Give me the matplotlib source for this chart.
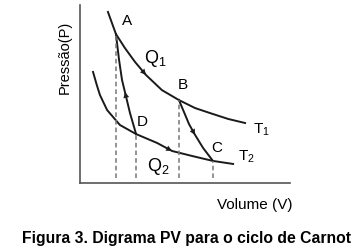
import matplotlib
matplotlib.use("Agg")
import matplotlib.pyplot as plt

plt.rcParams['font.family'] = ['Liberation Sans', 'DejaVu Sans']
plt.rcParams['mathtext.fontset'] = 'custom'
plt.rcParams['mathtext.rm'] = 'Liberation Sans'
plt.rcParams['mathtext.it'] = 'Liberation Sans'

# isotherm T1 (hot)
t1_v = [1.33, 1.71, 2.14, 2.62, 3.14, 3.90, 4.71, 5.48, 6.19, 7.05, 7.86]
t1_p = [9.61, 8.37, 7.58, 6.80, 6.07, 5.22, 4.66, 4.21, 3.93, 3.60, 3.37]

# isotherm T2 (cold)
t2_v = [0.62, 0.80, 0.95, 1.29, 1.90, 2.67, 3.67, 4.38, 5.33, 6.33, 7.29]
t2_p = [6.24, 5.50, 4.94, 4.10, 3.26, 2.75, 2.25, 1.80, 1.52, 1.24, 1.07]

# adiabats A-D and B-C
ad_v = [1.71, 1.86, 2.00, 2.14, 2.38, 2.67]
ad_p = [8.37, 6.91, 5.79, 5.11, 3.93, 2.75]
bc_v = [4.71, 4.95, 5.19, 5.48, 5.86, 6.33]
bc_p = [4.66, 3.99, 3.31, 2.70, 1.97, 1.24]

# corner points of the cycle
pt_names = ['A', 'B', 'C', 'D']
pt_v = [1.71, 4.71, 6.33, 2.67]
pt_p = [8.37, 4.66, 1.24, 2.75]

fig = plt.figure(figsize=(3.58, 2.52), dpi=100)
ax = fig.add_axes([0.2235, 0.2738, 0.5866, 0.7063])

lc = '#1a1a1a'
ax.plot(t1_v, t1_p, color=lc, lw=1.4)
ax.plot(t2_v, t2_p, color=lc, lw=1.4)
ax.plot(ad_v, ad_p, color=lc, lw=1.4)
ax.plot(bc_v, bc_p, color=lc, lw=1.4)

# dashed drop lines to the volume axis
ax.vlines(pt_v, 0.3, pt_p, colors='#777777', linestyles=(0, (3, 2)), lw=1.1)

# arrowheads showing direction around the cycle
def arrow(xs, ys, i, j):
    ax.annotate('', xy=(xs[j], ys[j]), xytext=(xs[i], ys[i]),
                arrowprops=dict(arrowstyle='-|>', color=lc, lw=0.1,
                                mutation_scale=10, shrinkA=0, shrinkB=0))

arrow(t1_v, t1_p, 3, 4)
arrow(ad_v, ad_p, 4, 3)
arrow(bc_v, bc_p, 2, 3)
arrow(t2_v, t2_p, 6, 7)

fs = 11
ax.text(2.24, 9.1, 'A', fontsize=fs, ha='center', va='center')
ax.text(4.91, 5.5, 'B', fontsize=fs, ha='center', va='center')
ax.text(6.52, 1.95, 'C', fontsize=fs, ha='center', va='center')
ax.text(2.95, 3.4, 'D', fontsize=fs, ha='center', va='center')
ax.text(3.6, 7.0, r'Q$_{\mathrm{1}}$', fontsize=13, ha='center', va='center')
ax.text(3.75, 0.9, r'Q$_{\mathrm{2}}$', fontsize=13, ha='center', va='center')
ax.text(8.65, 3.0, r'T$_{\mathrm{1}}$', fontsize=fs, ha='center', va='center')
ax.text(7.9, 1.45, r'T$_{\mathrm{2}}$', fontsize=fs, ha='center', va='center')

ax.set_xlim(0, 10)
ax.set_ylim(0, 10)
ax.spines['top'].set_visible(False)
ax.spines['right'].set_visible(False)
ax.spines['left'].set_color('#555555')
ax.spines['bottom'].set_color('#555555')
ax.spines['left'].set_linewidth(1.2)
ax.spines['bottom'].set_linewidth(1.2)
ax.set_xticks([])
ax.set_yticks([])

fig.text(65 / 358, 1 - 57 / 252, 'Pressão(P)', rotation=90, fontsize=10.5,
         ha='center', va='center')
fig.text(255 / 358, 1 - 205 / 252, 'Volume (V)', fontsize=11,
         ha='center', va='center')
fig.text(187 / 358, 1 - 238 / 252, 'Figura 3. Digrama PV para o ciclo de Carnot',
         fontsize=11.3, fontweight='bold', ha='center', va='center')

fig.savefig('out.png', dpi=100)
